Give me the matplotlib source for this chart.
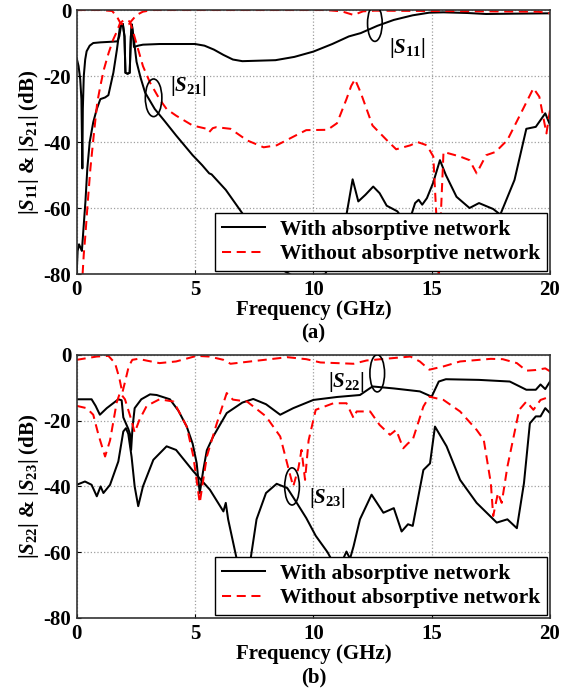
import matplotlib
matplotlib.use('Agg')
import matplotlib.pyplot as plt
from matplotlib.patches import Ellipse

plt.rcParams['font.family'] = ['Liberation Serif', 'DejaVu Serif']
plt.rcParams['font.weight'] = 'bold'
plt.rcParams['axes.unicode_minus'] = False
plt.rcParams['mathtext.fontset'] = 'custom'
plt.rcParams['mathtext.rm'] = 'Liberation Serif:bold'
plt.rcParams['mathtext.it'] = 'Liberation Serif:italic:bold'
plt.rcParams['mathtext.bf'] = 'Liberation Serif:bold'

# ---- (a) S11 / S21 ----
s11_with_f = [0, 0.08, 0.15, 0.2, 0.24, 0.26, 0.3, 0.36, 0.42, 0.55, 0.7, 1.0, 1.5, 1.72, 1.8, 1.87,
              1.95, 2.02, 2.06, 2.15, 2.24, 2.29, 2.33, 2.37, 2.42, 2.6, 2.8, 3.5, 5.0, 5.4, 5.8, 6.2, 6.6,
              7.0, 8.4, 9.2, 10.0, 10.8, 11.5, 12.0, 12.7, 13.4, 14.2, 14.9, 15.5, 16.5, 17.3, 18.5, 20]
s11_with_db = [-14.6, -17, -21, -27, -48, -30, -20, -15, -12.5, -10.8, -10, -9.8, -9.6, -9.5, -8, -5,
               -4.2, -8, -19, -19.3, -19, -8, -4.4, -7, -11.2, -10.8, -10.5, -10.3, -10.3, -10.8, -12, -13.6, -15,
               -15.5, -15.2, -14.2, -12.6, -10.3, -8, -7, -4.8, -3, -1.6, -0.8, -0.7, -0.9, -1.2, -1.1, -1]

s21_with_f = [0, 0.04, 0.1, 0.16, 0.22, 0.28, 0.37, 0.45, 0.55, 0.7, 0.85, 1.0, 1.2, 1.34, 1.55, 1.7,
              1.83, 1.95, 2.02, 2.06, 2.15, 2.24, 2.29, 2.33, 2.4, 2.53, 2.7, 2.89, 3.3, 3.7, 4.2, 4.9,
              5.3, 5.6, 5.7, 6.3, 7.0, 7.6, 8.5, 9.5, 10.5, 11.2, 11.45, 11.66, 11.9, 12.2, 12.53, 12.8,
              13.1, 13.55, 13.85, 14.1, 14.3, 14.45, 14.6, 14.8, 15.06, 15.35, 15.6, 16.05, 16.6, 17.0,
              17.6, 17.9, 18.5, 19.0, 19.4, 19.8, 20]
s21_with_db = [-80, -73, -71, -72, -73, -67, -58, -48, -40, -34, -30, -27, -26.5, -25.8, -19, -12,
               -5, -4.2, -8, -19, -19.3, -19, -8, -4.4, -8, -15.7, -20.5, -25, -30, -33.5, -38, -44,
               -47, -49.5, -49.8, -54.5, -61.6, -70, -78, -82, -80, -70, -60, -51.3, -58, -56, -53.5, -55.5,
               -59.3, -61, -64, -63, -58.5, -57.5, -59, -57, -52.4, -45.5, -50, -56.6, -60, -58.5,
               -60.3, -62, -51.5, -36, -35.4, -31.3, -34.8]

s11_wo_f = [0, 1.0, 1.5, 1.7, 1.85, 2.0, 2.2, 2.35, 2.53, 2.8, 3.2, 10.5, 11.2, 11.7, 12.1, 12.6, 15, 19.5, 20]
s11_wo_db = [0, 0, -0.3, -2, -4, -4.5, -4.3, -3, -1.5, -0.5, 0, 0, -0.4, -1.5, -0.4, -0.2, -0.3, -0.5, -1]

s21_wo_f = [0.25, 0.3, 0.37, 0.47, 0.58, 0.72, 0.87, 1.0, 1.15, 1.35, 1.54, 1.7, 1.83, 2.0, 2.1, 2.25,
            2.4, 2.6, 2.8, 3.1, 3.5, 3.8, 4.2, 4.9, 5.5, 5.6, 5.75, 5.9, 6.5, 7.2, 7.9, 8.45, 9.15,
            9.7, 10.6, 11.0, 11.4, 11.6, 11.76, 12.0, 12.5, 13.1, 13.5, 14.1, 14.4, 14.8, 15.07, 15.2,
            15.3, 15.4, 15.5, 16.2, 16.6, 16.9, 17.3, 17.7, 18.2, 18.7, 19.3, 19.55, 19.85, 20]
s21_wo_db = [-80, -74, -68, -58, -48, -38, -28, -23, -18, -13, -9, -6.5, -4, -3, -3, -3.5,
             -7, -12, -17, -22, -27, -30, -32, -35, -36, -37, -35.8, -35.5, -36, -39.5, -41.6, -41, -38.4,
             -36.4, -36.3, -34.3, -27, -23, -21, -25, -35, -39.4, -42.2, -41, -40, -41, -44.4, -62.6,
             -82, -60, -43, -44.4, -45.5, -49.5, -44, -43, -39.4, -32.3, -23.7, -26.3, -37.4, -30.3]

# ---- (b) S22 / S23 ----
s22_with_f = [0, 0.63, 0.8, 0.98, 1.27, 1.76, 1.9, 1.97, 2.18, 2.25, 2.3, 2.36, 2.45, 2.73, 3.1,
              3.38, 3.94, 4.3, 4.65, 4.9, 5.07, 5.2, 5.35, 5.5, 5.77, 6.34, 7.0, 7.46, 8.0, 8.6, 9.15,
              10.0, 11.0, 11.97, 12.5, 13.4, 14.5, 15.0, 15.3, 15.6, 17.0, 18.3, 19.0, 19.4, 19.6,
              19.8, 20]
s22_with_db = [-13.5, -13.5, -15.5, -18.2, -16.2, -13.5, -13.8, -19, -22.5, -24, -28.9, -22, -16.2, -13.5, -12,
               -12.2, -13.5, -17, -21.8, -27, -32.9, -42, -35, -29, -24.8, -17.7, -14.5, -13.4, -15, -18.2, -16.2,
               -13.7, -12.8, -12.2, -9.6, -10.2, -11.1, -12.7, -8.1, -7.4, -7.6, -8.1, -10.6, -10.6, -9,
               -10.4, -8.1]

s22_wo_f = [0, 0.85, 1.34, 1.62, 1.8, 1.93, 2.05, 2.2, 2.35, 2.6, 3.0, 3.5, 4.2, 5.07, 5.6, 6.2, 6.5,
            7.7, 8.9, 9.7, 10.3, 11.7, 12.25, 14.1, 14.5, 14.9, 15.5, 16.2, 17.5, 18.0, 18.6, 19.0,
            19.4, 19.8, 20]
s22_wo_db = [-1.5, -0.5, -0.3, -2.5, -7, -11.5, -8, -3.5, -1.5, -1.2, -1.8, -2.5, -2, -0.3, -0.5, -1.5, -2.7,
             -1.7, -0.7, -1.3, -2.3, -2.7, -1.7, -0.5, -2, -4.5, -3.5, -2, -1.2, -1.3, -2.5, -4.8,
             -4.6, -4.1, -5]

s23_with_f = [0, 0.35, 0.63, 0.85, 1.01, 1.13, 1.41, 1.76, 1.97, 2.08, 2.18, 2.32, 2.45, 2.6, 2.8, 3.24,
              3.8, 4.2, 4.93, 5.63, 6.2, 6.3, 6.4, 6.76, 7.0, 7.2, 7.35, 7.6, 8.0, 8.45, 8.9, 9.3, 9.7,
              10.1, 10.6, 10.9, 11.2, 11.4, 11.55, 11.7, 11.97, 12.46, 12.96, 13.4, 13.73, 14.0, 14.2,
              14.65, 14.93, 15.14, 15.63, 16.2, 16.9, 17.75, 18.2, 18.6, 18.9, 19.15, 19.4, 19.6, 19.8, 20]
s23_with_db = [-39.5, -38.5, -39.5, -43, -40, -42, -39.5, -32.4, -23.3, -22.3, -24, -31, -40, -46, -40, -31.9,
               -27.8, -28.9, -35.4, -41, -47.6, -45, -50, -62, -68, -68, -62, -50, -42, -39.2, -40.5, -45, -49.6,
               -55, -60, -64, -63, -59.8, -62, -58.2, -50, -42.5, -48, -46.6, -53.7, -51.5, -52,
               -35, -33, -21.8, -27.8, -38, -45, -51, -50, -52.7, -39, -20.8, -18.7, -18.7, -16.2, -17.7]

s23_wo_f = [0, 0.42, 0.7, 0.92, 1.2, 1.41, 1.69, 1.83, 2.04, 2.32, 2.45, 2.66, 2.96, 3.5, 4.1, 4.65, 4.93,
            5.2, 5.5, 5.9, 6.34, 6.6, 7.2, 8.0, 8.6, 9.0, 9.15, 9.37, 9.5, 9.65, 9.8, 10.1, 10.85,
            11.4, 11.7, 11.83, 12.4, 12.8, 13.24, 13.5, 13.8, 14.0, 14.2, 14.65, 14.9, 15.5, 16.2,
            16.9, 17.2, 17.5, 17.6, 17.8, 17.96, 18.2, 18.7, 19.0, 19.3, 19.6, 20]
s23_wo_db = [-15.5, -16.2, -18.2, -24.3, -30.9, -26, -14.5, -11.5, -13.5, -20, -23.6, -19.6, -15.5, -13.5, -14.2, -21.8, -30.9,
             -45, -30.9, -21.3, -11.6, -13.6, -14.2, -18.7, -24.8, -36, -40, -34.4, -28.9, -38, -26, -16.7, -14.7,
             -14.7, -19.2, -17.2, -17.2, -21.3, -24.3, -22.8, -28.4, -26.9, -25.8, -15.7, -12.7, -13.7, -17.2,
             -22.8, -25.8, -39, -49, -42, -45, -34, -16.7, -14.2, -16.7, -13.7, -12.7]

xticks = [0, 5, 10, 15, 20]
yticks = [0, -20, -40, -60, -80]

fig = plt.figure(figsize=(5.63, 6.96), dpi=100)
ax1 = fig.add_axes([0.1362, 0.6063, 0.8407, 0.3793])
ax2 = fig.add_axes([0.1362, 0.1121, 0.8407, 0.3780])

FS = 15

def style(ax, ylabel, tag):
    ax.set_xlim(0, 20)
    ax.set_ylim(-80, 0)
    ax.set_xticks(xticks)
    ax.set_yticks(yticks)
    ax.grid(True, linestyle=':', color='#a0a0a0', linewidth=0.9)
    ax.tick_params(direction='in', labelsize=FS, length=3, pad=4)
    for lab in ax.get_xticklabels() + ax.get_yticklabels():
        lab.set_fontweight('bold')
    for sp in ax.spines.values():
        sp.set_color('#333333')
        sp.set_linewidth(1.2)
    ax.set_ylabel(ylabel, fontsize=FS, fontweight='bold', labelpad=2)
    ax.set_xlabel('Frequency (GHz)\n' + tag, fontsize=FS, fontweight='bold', labelpad=0, linespacing=1.25)
    leg = ax.legend(loc='lower right', fontsize=15.5, frameon=True, fancybox=False,
                    edgecolor='black', framealpha=1, handlelength=2.0, handletextpad=0.7,
                    borderpad=0.3, labelspacing=0.2, borderaxespad=0.15)
    leg.get_frame().set_linewidth(1.0)
    for t in leg.get_texts():
        t.set_fontweight('bold')

lw = 1.45
dash = (0, (4.5, 2.8))
ax1.plot(s11_with_f, s11_with_db, color='black', lw=lw, label='With absorptive network')
ax1.plot(s21_with_f, s21_with_db, color='black', lw=lw)
ax1.plot(s11_wo_f, s11_wo_db, color='red', lw=lw, ls=dash, label='Without absorptive network')
ax1.plot(s21_wo_f, s21_wo_db, color='red', lw=lw, ls=dash)
ax1.add_patch(Ellipse((12.6, -4), 0.62, 11, fill=False, color='black', lw=1.2, zorder=5))
ax1.add_patch(Ellipse((3.25, -26.6), 0.7, 11.4, fill=False, color='black', lw=1.2, zorder=5))
ax1.text(13.2, -11.5, r'$|S_{11}|$', fontsize=FS, va='center', ha='left')
ax1.text(3.95, -23, r'$|S_{21}|$', fontsize=FS, va='center', ha='left')
style(ax1, r'$|S_{11}|$ & $|S_{21}|$ (dB)', '(a)')

ax2.plot(s22_with_f, s22_with_db, color='black', lw=lw, label='With absorptive network')
ax2.plot(s23_with_f, s23_with_db, color='black', lw=lw)
ax2.plot(s22_wo_f, s22_wo_db, color='red', lw=lw, ls=dash, label='Without absorptive network')
ax2.plot(s23_wo_f, s23_wo_db, color='red', lw=lw, ls=dash)
ax2.add_patch(Ellipse((12.7, -5.6), 0.62, 11.3, fill=False, color='black', lw=1.2, zorder=5))
ax2.add_patch(Ellipse((9.1, -40), 0.62, 11.3, fill=False, color='black', lw=1.2, zorder=5))
ax2.text(10.6, -8.1, r'$|S_{22}|$', fontsize=FS, va='center', ha='left')
ax2.text(9.8, -43.5, r'$|S_{23}|$', fontsize=FS, va='center', ha='left')
style(ax2, r'$|S_{22}|$ & $|S_{23}|$ (dB)', '(b)')

fig.savefig('out.png', dpi=100)
